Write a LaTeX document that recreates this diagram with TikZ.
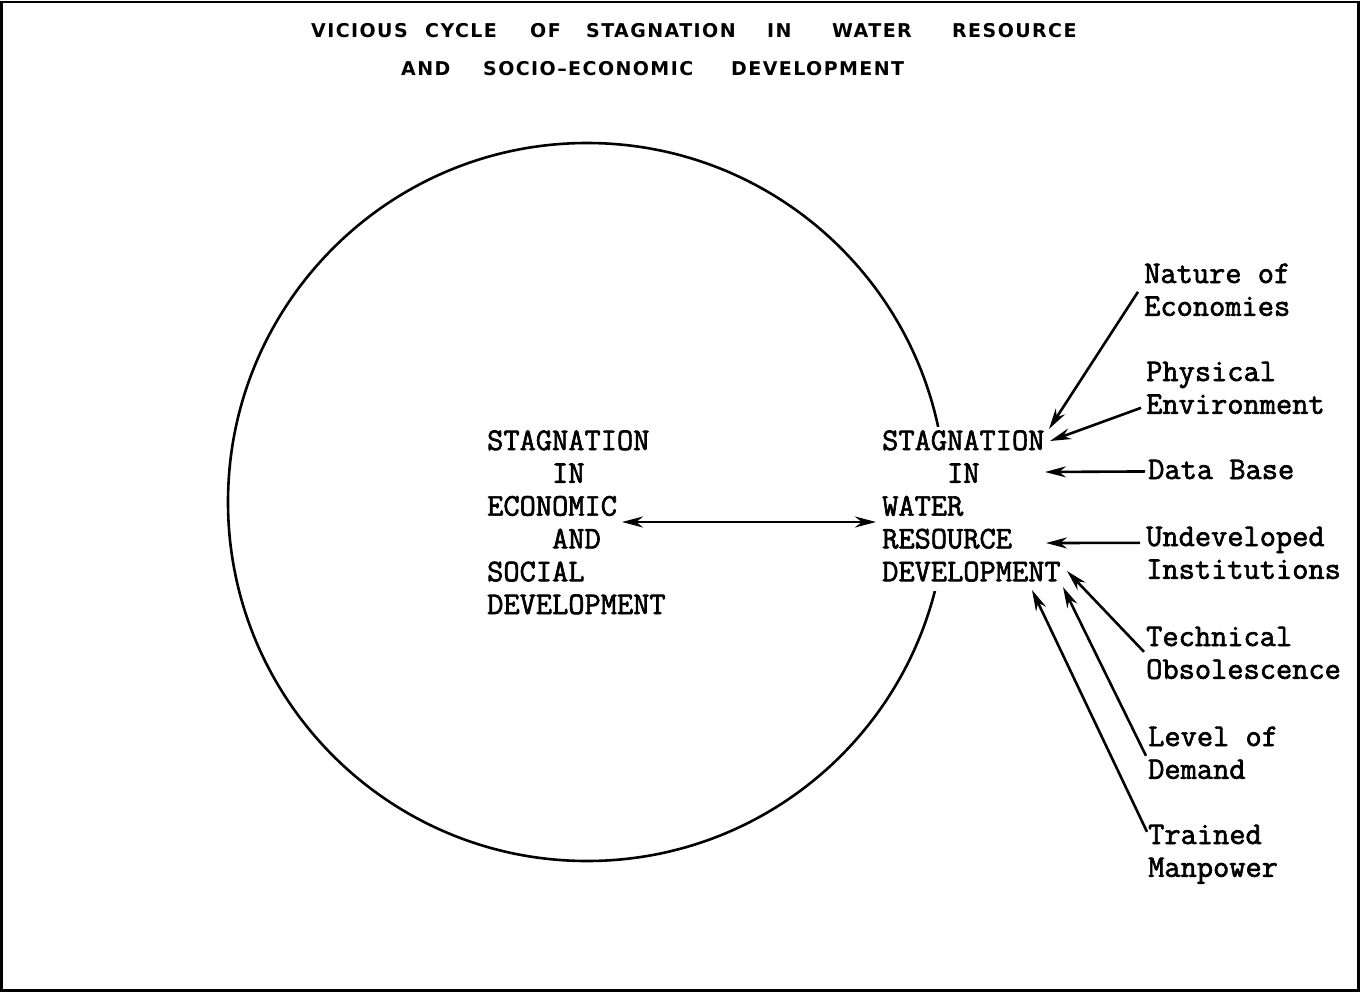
\documentclass[tikz,border=0pt]{standalone}
\usepackage{fontspec}
\usetikzlibrary{arrows.meta,calc}
% typewriter face for the diagram texts, heavy letter-spaced sans for the heading
\newfontfamily\typefont[FakeBold=2]{Latin Modern Mono}
\newfontfamily\headfont[LetterSpace=7.5]{DejaVu Sans}
\tikzset{
  txt/.style={font=\typefont\fontsize{31.5}{32.8}\selectfont, inner sep=0pt, anchor=base west},
  head/.style={font=\headfont\bfseries\fontsize{19}{21}\selectfont, inner sep=0pt, anchor=base west},
  arr/.style={-{Stealth[length=21pt,width=11pt]}, line width=2.6pt},
  dbl/.style={{Stealth[length=21pt,width=11pt]}-{Stealth[length=21pt,width=11pt]}, line width=2.6pt},
  ring/.style={line width=2.6pt},
}
\newcommand{\lines}[1]{\begin{tabular}[t]{@{}l@{}}#1\end{tabular}}
\begin{document}
\begin{tikzpicture}[x=1pt,y=-1pt]
\useasboundingbox (0,0) rectangle (1362,993);
\draw[line width=2.8pt] (1.5,2) rectangle (1358.5,990.5);

% heading
\node[head] (t1) at (311,37) {VICIOUS};
\node[head] (t2) at (425,37) {CYCLE};
\node[head] (t3) at (530,37) {OF};
\node[head] (t4) at (586,37) {STAGNATION};
\node[head] (t5) at (767,37) {IN};
\node[head] (t6) at (832,37) {WATER};
\node[head] (t7) at (952,37) {RESOURCE};
\node[head] (t8) at (401,75) {AND};
\node[head] (t9) at (483,75) {SOCIO–ECONOMIC};
\node[head] (t10) at (731,75) {DEVELOPMENT};

% the cycle
\draw[ring] (587,502) circle[radius=359pt];

% the two stagnation blocks
\node[txt] (lft) at (487,450) {\lines{STAGNATION\\\phantom{XXXX}IN\\ECONOMIC\\\phantom{XXXX}AND\\SOCIAL\\DEVELOPMENT}};
\node[txt, fill=white] (rgt) at (882,450) {\lines{STAGNATION\\\phantom{XXXX}IN\\WATER\\RESOURCE\\DEVELOPMENT}};

% factors
\node[txt] (nat) at (1144,283) {\lines{Nature of\\Economies}};
\node[txt] (phy) at (1146,381) {\lines{Physical\\Environment}};
\node[txt] (dat) at (1148,479) {\lines{Data Base}};
\node[txt] (und) at (1146,546) {\lines{Undeveloped\\Institutions}};
\node[txt] (tec) at (1146,646) {\lines{Technical\\Obsolescence}};
\node[txt] (lev) at (1148,746) {\lines{Level of\\Demand}};
\node[txt] (tra) at (1148,844) {\lines{Trained\\Manpower}};

% arrow heads at the water resource block
\coordinate (h1) at (1049,429);
\coordinate (h2) at (1050,441);
\coordinate (h3) at (1045,472);
\coordinate (h4) at (1046,543);
\coordinate (h5) at (1067,571);
\coordinate (h6) at (1063,587);
\coordinate (h7) at (1032,590);
\coordinate (ml) at (622,522);

\draw[arr] ($(nat.west)+(-6,-1)$) -- (h1);
\draw[arr] ($(phy.west)+(-5,17)$) -- (h2);
\draw[arr] ($(dat.west)+(-3,-1)$) -- (h3);
\draw[arr] ($(und.west)+(-6,-13)$) -- (h4);
\draw[arr] ($(tec.west)+(-2,-4)$) -- (h5);
\draw[arr] ($(lev.west)+(-2,0)$) -- (h6);
\draw[arr] ($(tra.west)+(-1,-22)$) -- (h7);

\draw[dbl, shorten >=6pt] (ml) -- (ml -| rgt.west);
\end{tikzpicture}
\end{document}
